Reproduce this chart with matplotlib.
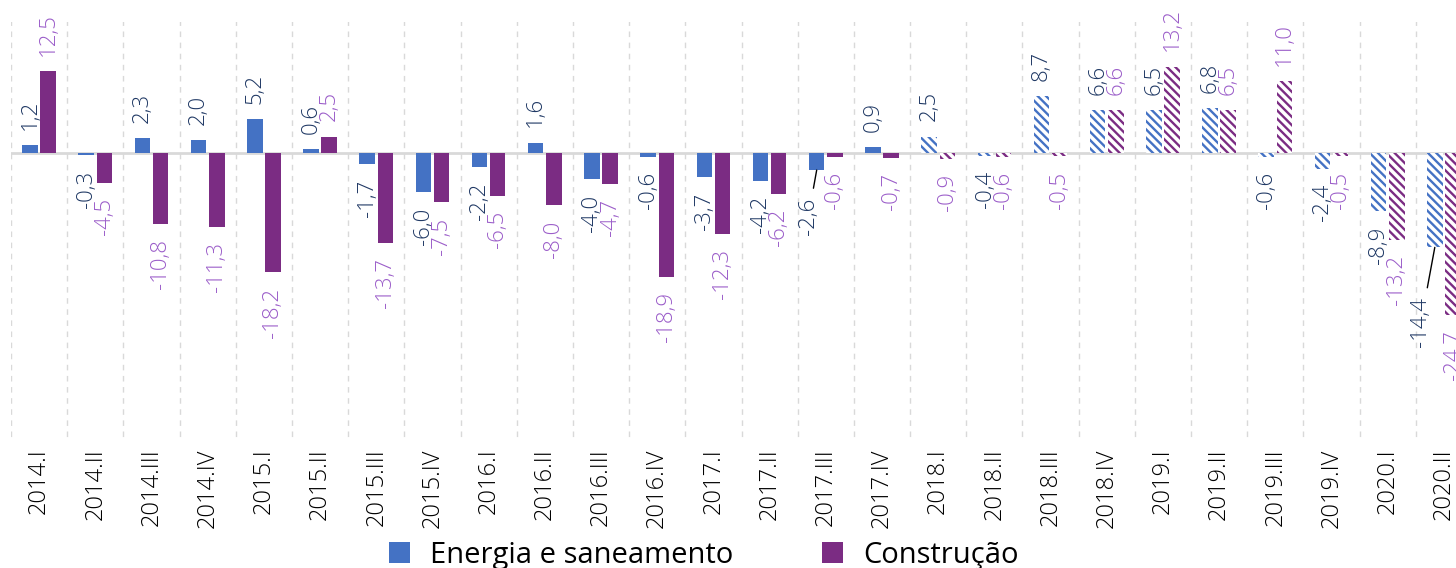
import matplotlib
matplotlib.use("Agg")
import matplotlib.pyplot as plt
from matplotlib.patches import Patch
import numpy as np

# Quarters shown on the x axis
quarters = [
    "2014.I", "2014.II", "2014.III", "2014.IV",
    "2015.I", "2015.II", "2015.III", "2015.IV",
    "2016.I", "2016.II", "2016.III", "2016.IV",
    "2017.I", "2017.II", "2017.III", "2017.IV",
    "2018.I", "2018.II", "2018.III", "2018.IV",
    "2019.I", "2019.II", "2019.III", "2019.IV",
    "2020.I", "2020.II",
]

# Series values (%)
energia = [1.2, -0.3, 2.3, 2.0, 5.2, 0.6, -1.7, -6.0, -2.2, 1.6, -4.0, -0.6, -3.7,
           -4.2, -2.6, 0.9, 2.5, -0.4, 8.7, 6.6, 6.5, 6.8, -0.6, -2.4, -8.9, -14.4]
construcao = [12.5, -4.5, -10.8, -11.3, -18.2, 2.5, -13.7, -7.5, -6.5, -8.0, -4.7, -18.9, -12.3,
              -6.2, -0.6, -0.7, -0.9, -0.6, -0.5, 6.6, 13.2, 6.5, 11.0, -0.5, -13.2, -24.7]

# first quarter drawn with hatching (projection)
first_hatched = "2018.I"

series_names = ["Energia e saneamento", "Construção"]
bar_colors = ["#4472C4", "#7B2C83"]
label_colors = ["#1F3864", "#9B5DC9"]

plt.rcParams["font.family"] = ["Open Sans", "DejaVu Sans"]
plt.rcParams["hatch.linewidth"] = 1.7

fig = plt.figure(figsize=(14.56, 5.68), dpi=100)
# plot area runs slightly past the right border, like the original
ax = fig.add_axes([11 / 1456, 128 / 568, 1461 / 1456, 418 / 568])

x = np.arange(len(quarters))
width = 0.276
shift = 0.162
hatch_start = quarters.index(first_hatched)

# separators between the quarters and the zero line
ax.vlines(np.arange(len(quarters) + 1) - 0.5, -50, 30, colors="#d9d9d9",
          linestyles=(0, (4, 4)), linewidth=1, zorder=0)
ax.axhline(0, color="#d9d9d9", linewidth=2, zorder=1)

# labels pulled away from their bar with a leader line (series, index): offset in points
leader_offsets = {(0, 14): (-6, -20), (0, 25): (-10, -36)}

for s, values in enumerate([energia, construcao]):
    xs = x + (shift if s == 1 else -shift)
    for i, (xi, v) in enumerate(zip(xs, values)):
        hatched = i >= hatch_start
        ax.bar(
            xi, v, width,
            color="white" if hatched else bar_colors[s],
            edgecolor=bar_colors[s],
            hatch="\\\\\\\\" if hatched else None,
            linewidth=0,
            zorder=2,
        )
        text = f"{v:.1f}".replace(".", ",")
        sign = 1 if v >= 0 else -1
        if (s, i) in leader_offsets:
            dx, dy = leader_offsets[(s, i)]
            ax.annotate(
                text, (xi, v), xytext=(dx, dy), textcoords="offset points",
                rotation=90, ha="center", va="top", fontsize=16,
                color=label_colors[s], fontweight="light",
                arrowprops=dict(arrowstyle="-", color="black", lw=1,
                                shrinkA=5, shrinkB=0),
            )
        else:
            ax.annotate(
                text, (xi, v), xytext=(0, 11 * sign), textcoords="offset points",
                rotation=90, ha="center", va="bottom" if v >= 0 else "top",
                fontsize=16, color=label_colors[s], fontweight="light",
            )

ax.set_xlim(-0.5, len(quarters) - 0.5)
ax.set_ylim(-43.8, 20.0)
ax.set_xticks(x)
ax.set_xticklabels(quarters, rotation=90, fontsize=17, fontweight="light", color="#000000")
ax.tick_params(axis="x", length=0, pad=6)
ax.set_yticks([])
for side in ["top", "right", "bottom", "left"]:
    ax.spines[side].set_visible(False)

# legend with square markers
handles = [Patch(facecolor=c, edgecolor="none") for c in bar_colors]
fig.legend(
    handles, series_names,
    loc="center", bbox_to_anchor=(704 / 1456, 13 / 568),
    ncol=2, frameon=False, fontsize=21,
    handlelength=0.7, handleheight=0.7, handletextpad=0.7,
    columnspacing=3.05,
)

fig.savefig("out.png", dpi=100)
plt.close(fig)
